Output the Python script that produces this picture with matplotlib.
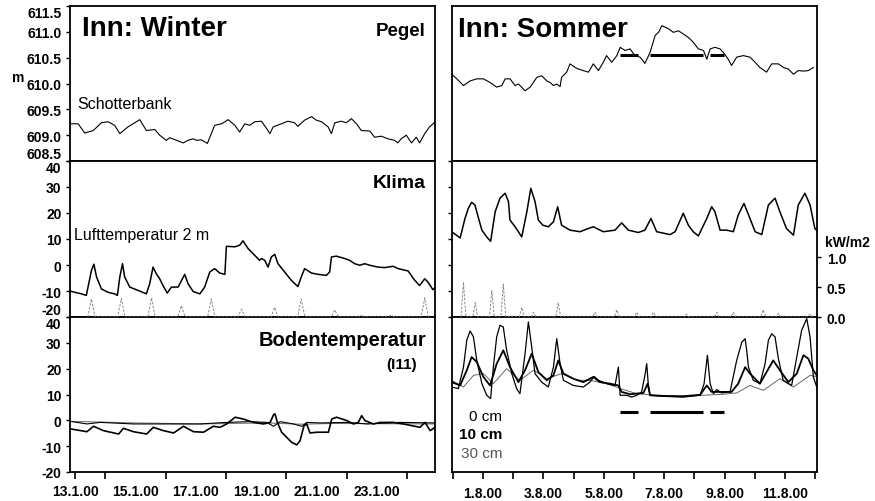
import matplotlib.pyplot as plt

plt.rcParams['font.family'] = ['Liberation Sans', 'DejaVu Sans']

# --- winter (days in January 2000) ---
pegel_w_day = [12.77, 13.10, 13.32, 13.60, 13.87, 14.09, 14.31, 14.48, 14.75, 15.14, 15.36, 15.64,
               15.80, 16.02, 16.13, 16.36, 16.58, 16.74, 16.91, 17.02, 17.18, 17.38, 17.62, 17.85,
               18.07, 18.29, 18.45, 18.62, 18.78, 18.95, 19.17, 19.34, 19.45, 19.56, 19.83, 20.05,
               20.27, 20.38, 20.60, 20.83, 20.99, 21.16, 21.38, 21.49, 21.60, 21.82, 21.98, 22.15,
               22.32, 22.48, 22.76, 22.92, 23.14, 23.36, 23.58, 23.69, 23.80, 23.97, 24.14, 24.30,
               24.41, 24.58, 24.74, 24.91]
pegel_w = [609.22, 609.22, 609.04, 609.09, 609.24, 609.26, 609.19, 609.03, 609.16, 609.30, 609.09, 609.11,
           609.00, 608.90, 608.95, 608.90, 608.85, 608.90, 608.93, 608.90, 608.91, 608.84, 609.19, 609.22,
           609.30, 609.19, 609.06, 609.22, 609.19, 609.26, 609.27, 609.13, 609.03, 609.16, 609.22, 609.27,
           609.24, 609.17, 609.29, 609.36, 609.29, 609.26, 609.16, 609.03, 609.24, 609.27, 609.24, 609.32,
           609.22, 609.09, 609.08, 608.96, 608.98, 608.93, 608.90, 608.85, 608.93, 609.00, 608.85, 608.96,
           608.85, 609.03, 609.16, 609.25]

luft_w_day = [12.77, 12.99, 13.21, 13.37, 13.45, 13.54, 13.62, 13.71, 13.87, 14.09, 14.31, 14.40,
              14.48, 14.57, 14.64, 14.81, 15.09, 15.36, 15.47, 15.58, 15.69, 15.80, 15.91, 16.05,
              16.19, 16.41, 16.63, 16.74, 16.91, 17.13, 17.29, 17.46, 17.62, 17.79, 17.96, 18.01,
              18.29, 18.45, 18.56, 18.73, 18.95, 19.11, 19.17, 19.28, 19.39, 19.50, 19.61, 19.72,
              19.94, 20.16, 20.38, 20.49, 20.60, 20.83, 21.05, 21.32, 21.43, 21.49, 21.65, 21.93,
              22.09, 22.26, 22.43, 22.59, 22.76, 23.03, 23.25, 23.53, 23.70, 24.03, 24.25, 24.41,
              24.58, 24.69, 24.85, 24.96]
luft_w = [-9.8, -10.5, -11.1, -11.7, -7.2, -2.1, 0.3, -4.6, -9.2, -10.5, -11.1, -11.7,
          -4.6, 0.5, -4.6, -8.5, -9.8, -11.1, -7.2, -0.8, -3.4, -5.3, -7.9, -10.8,
          -8.5, -8.5, -3.6, -7.2, -10.2, -11.1, -8.5, -2.7, -1.4, -3.1, -3.6, 7.2,
          7.0, 7.6, 9.3, 6.3, 3.7, 1.8, 2.5, 1.8, -0.8, 3.1, 4.1, 0.5,
          -2.7, -5.9, -8.3, -4.6, -1.4, -3.1, -3.6, -4.0, -2.7, 3.1, 3.4, 2.5,
          1.8, 0.5, -0.1, 0.5, -0.1, -0.8, -1.0, -0.5, -1.4, -2.3, -5.9, -7.9,
          -5.3, -6.6, -9.5, -8.3]

# global radiation (kW/m2), one peak per day
strahl_w_day = [13.42, 13.54, 13.66, 14.41, 14.53, 14.65, 15.41, 15.53, 15.65, 16.40, 16.52, 16.64,
                17.39, 17.51, 17.63, 18.39, 18.51, 18.63, 19.49, 19.61, 19.73, 20.37, 20.49, 20.61,
                21.48, 21.60, 21.72, 22.36, 22.48, 22.60, 23.35, 23.47, 23.59, 24.46, 24.58, 24.70]
strahl_w = [0, 0.30, 0, 0, 0.31, 0, 0, 0.32, 0, 0, 0.19, 0,
            0, 0.30, 0, 0, 0.13, 0, 0, 0.16, 0, 0, 0.30, 0,
            0, 0.12, 0, 0, 0.03, 0, 0, 0.03, 0, 0, 0.32, 0]

boden0_w_day = [12.89, 13.39, 13.61, 13.94, 14.44, 14.60, 14.93, 15.37, 15.59, 15.93, 16.26, 16.59,
                16.92, 17.25, 17.58, 17.80, 18.02, 18.30, 18.57, 18.91, 19.24, 19.46, 19.57, 19.62,
                19.70, 19.84, 20.01, 20.17, 20.34, 20.45, 20.58, 20.67, 20.78, 21.00, 21.39, 21.50,
                21.66, 22.00, 22.22, 22.38, 22.49, 22.60, 22.88, 23.10, 23.54, 23.87, 24.42, 24.59,
                24.76, 24.92]
boden0_w = [-3.4, -4.4, -2.3, -4.0, -5.3, -3.1, -4.4, -5.3, -2.7, -4.0, -4.9, -2.3,
            -4.4, -4.6, -2.3, -2.7, -1.4, 1.2, 0.5, -0.8, -1.4, -0.8, 2.1, 2.5,
            -0.8, -4.6, -6.6, -8.5, -9.5, -7.9, -2.1, -1.4, -4.9, -4.6, -4.6, 0.5,
            1.2, -0.1, -1.4, -0.8, 1.8, -0.1, -1.4, -0.8, -0.8, -1.4, -2.7, -0.8,
            -4.0, -2.7]
boden10_w_day = [12.89, 13.39, 13.83, 14.93, 16.03, 17.14, 18.02, 18.79, 19.35, 19.57, 19.79, 20.23,
                 20.51, 20.67, 21.11, 22.00, 22.66, 23.76, 24.92]
boden10_w = [-0.5, -1.4, -0.8, -1.4, -1.4, -1.4, -0.8, -0.5, -0.8, -2.3, -0.5, -1.4,
             -2.3, -0.8, -1.0, -0.8, -1.4, -0.8, -1.0]
boden30_w_day = [12.89, 14.93, 17.14, 19.35, 20.45, 21.55, 24.92]
boden30_w = [-0.4, -1.0, -1.4, -1.0, -1.5, -1.2, -1.4]

# --- summer (day 1 = 1.8.2000) ---
pegel_s_day = [-0.04, 0.13, 0.35, 0.57, 0.79, 1.01, 1.23, 1.45, 1.62, 1.73, 1.89, 2.06,
               2.17, 2.39, 2.56, 2.78, 2.94, 3.11, 3.22, 3.33, 3.44, 3.55, 3.60, 3.77,
               3.88, 4.05, 4.16, 4.32, 4.49, 4.65, 4.82, 4.98, 5.09, 5.26, 5.43, 5.54,
               5.70, 5.87, 6.03, 6.20, 6.36, 6.53, 6.70, 6.81, 6.92, 7.03, 7.14, 7.30,
               7.47, 7.63, 7.80, 7.96, 8.13, 8.30, 8.41, 8.52, 8.68, 8.85, 8.96, 9.12,
               9.23, 9.40, 9.62, 9.84, 10.01, 10.17, 10.39, 10.56, 10.78, 10.95, 11.11, 11.28,
               11.44, 11.61, 11.77, 11.94]
pegel_s = [610.18, 610.09, 609.96, 610.05, 610.09, 610.09, 610.02, 609.93, 609.96, 610.09, 610.09, 609.96,
           609.99, 609.86, 609.93, 610.12, 610.15, 610.05, 610.02, 609.96, 609.99, 609.94, 610.12, 610.22,
           610.38, 610.31, 610.28, 610.25, 610.22, 610.38, 610.25, 610.41, 610.54, 610.41, 610.54, 610.70,
           610.64, 610.67, 610.54, 610.51, 610.39, 610.60, 610.93, 610.99, 611.12, 611.09, 611.06, 610.99,
           611.02, 610.96, 610.89, 610.80, 610.67, 610.64, 610.47, 610.67, 610.70, 610.67, 610.60, 610.47,
           610.35, 610.51, 610.54, 610.51, 610.41, 610.31, 610.22, 610.38, 610.38, 610.31, 610.28, 610.18,
           610.25, 610.24, 610.25, 610.31]

# periods with the gravel bar flooded
flut_start = [5.54, 6.53, 8.52]
flut_end = [6.14, 8.30, 8.97]
flut_pegel = 610.55
flut_boden = 3.3

luft_s_day = [-0.04, 0.24, 0.40, 0.51, 0.62, 0.73, 0.85, 0.96, 1.12, 1.25, 1.40, 1.56,
              1.73, 1.84, 1.89, 2.06, 2.28, 2.45, 2.58, 2.72, 2.83, 2.98, 3.16, 3.33,
              3.47, 3.60, 3.88, 4.21, 4.43, 4.65, 4.98, 5.37, 5.59, 5.81, 6.14, 6.36,
              6.56, 6.75, 7.19, 7.36, 7.63, 7.80, 7.96, 8.13, 8.41, 8.57, 8.68, 8.85,
              9.07, 9.29, 9.45, 9.64, 9.84, 10.01, 10.23, 10.45, 10.67, 10.83, 11.05, 11.28,
              11.44, 11.66, 11.83, 11.99, 12.10]
luft_s = [12.8, 10.4, 17.9, 21.8, 24.1, 23.1, 17.9, 13.4, 10.8, 9.1, 20.5, 25.7,
          27.6, 24.4, 17.3, 14.7, 10.8, 20.5, 29.5, 24.4, 17.3, 15.3, 14.7, 16.6,
          22.4, 15.3, 13.4, 12.8, 13.8, 14.7, 12.8, 13.4, 16.2, 13.4, 12.5, 13.4,
          17.9, 12.8, 11.7, 12.8, 19.9, 15.3, 12.8, 11.2, 17.9, 22.4, 20.5, 13.4,
          13.4, 12.8, 19.2, 23.7, 17.9, 12.8, 11.7, 23.1, 25.7, 20.5, 14.0, 11.5,
          23.1, 27.6, 23.1, 14.0, 12.8]

strahl_s_day = [0.27, 0.35, 0.43, 0.66, 0.74, 0.82, 1.21, 1.29, 1.37, 1.59, 1.67, 1.75,
                2.20, 2.28, 2.36, 2.59, 2.67, 2.75, 3.41, 3.49, 3.57, 4.63, 4.71, 4.79,
                5.35, 5.43, 5.51, 6.01, 6.09, 6.17, 6.56, 6.64, 6.72, 7.66, 7.74, 7.82,
                8.66, 8.74, 8.82, 9.21, 9.29, 9.37, 10.20, 10.28, 10.36, 10.70, 10.78, 10.86,
                11.75, 11.83, 11.91]
strahl_s = [0, 0.58, 0, 0, 0.24, 0, 0, 0.44, 0, 0, 0.55, 0,
            0, 0.16, 0, 0, 0.08, 0, 0, 0.24, 0, 0, 0.08, 0,
            0, 0.12, 0, 0, 0.08, 0, 0, 0.08, 0, 0, 0.05, 0,
            0, 0.08, 0, 0, 0.08, 0, 0, 0.12, 0, 0, 0.06, 0,
            0, 0.05, 0]

boden0_s_day = [-0.04, 0.18, 0.35, 0.46, 0.57, 0.68, 0.79, 0.96, 1.12, 1.25, 1.34, 1.45,
                1.56, 1.67, 1.78, 1.95, 2.11, 2.22, 2.39, 2.50, 2.61, 2.72, 2.94, 3.16,
                3.33, 3.44, 3.55, 3.66, 3.99, 4.32, 4.54, 4.68, 4.82, 5.09, 5.37, 5.48,
                5.54, 5.76, 5.92, 6.09, 6.25, 6.36, 6.42, 6.47, 6.53, 6.97, 7.63, 8.19,
                8.32, 8.43, 8.52, 8.63, 8.74, 8.90, 9.18, 9.40, 9.57, 9.68, 9.73, 9.79,
                9.95, 10.17, 10.34, 10.45, 10.56, 10.67, 10.78, 10.94, 11.22, 11.39, 11.55, 11.72,
                11.83, 11.94, 12.05]
boden0_s = [12.9, 12.3, 20.6, 31.0, 34.6, 32.3, 23.2, 14.2, 9.7, 8.4, 20.6, 32.3,
            36.8, 36.1, 27.1, 18.1, 12.3, 10.3, 25.8, 38.1, 28.4, 18.1, 14.8, 12.9,
            20.6, 31.6, 21.9, 15.5, 13.5, 12.9, 14.8, 17.0, 15.5, 14.2, 13.5, 20.6,
            9.7, 9.7, 9.0, 9.7, 11.0, 17.4, 21.9, 14.2, 9.7, 9.3, 9.0, 9.7,
            14.2, 25.2, 14.2, 10.3, 11.9, 10.6, 11.0, 23.2, 30.3, 31.6, 27.1, 20.6,
            15.5, 14.2, 21.9, 31.0, 33.5, 32.3, 23.9, 15.5, 13.5, 24.5, 34.8, 39.4,
            32.3, 16.8, 12.9]
boden10_s_day = [-0.04, 0.24, 0.46, 0.62, 0.79, 1.01, 1.23, 1.45, 1.67, 1.89, 2.17, 2.39,
                 2.61, 2.83, 3.11, 3.33, 3.49, 3.66, 3.99, 4.32, 4.65, 4.87, 5.20, 5.48,
                 5.59, 5.87, 6.31, 6.45, 6.53, 7.08, 7.63, 8.19, 8.41, 8.57, 8.96, 9.23,
                 9.45, 9.68, 9.84, 10.17, 10.39, 10.61, 10.83, 11.11, 11.39, 11.61, 11.77, 11.94,
                 12.05]
boden10_s = [14.8, 13.5, 19.4, 24.5, 22.6, 16.8, 13.5, 21.9, 27.1, 20.6, 14.8, 19.4,
             25.8, 18.7, 15.5, 17.4, 23.2, 18.1, 16.1, 14.8, 16.8, 14.8, 14.2, 13.5,
             11.0, 10.1, 10.6, 14.2, 9.7, 9.4, 9.3, 9.9, 13.5, 11.0, 11.0, 11.0,
             14.2, 20.6, 18.1, 14.2, 18.7, 23.2, 19.4, 14.8, 18.1, 25.2, 23.9, 19.4,
             17.4]
boden30_s_day = [-0.04, 0.35, 0.68, 1.01, 1.34, 1.78, 2.22, 2.67, 3.11, 3.60, 4.10, 4.54,
                 5.09, 5.54, 6.09, 6.75, 7.63, 8.30, 8.96, 9.40, 9.84, 10.28, 10.83, 11.28,
                 11.83, 12.10]
boden30_s = [15.5, 12.9, 17.4, 18.1, 14.2, 20.0, 15.5, 19.4, 16.1, 18.1, 15.5, 15.5,
             14.2, 12.3, 10.3, 9.7, 9.4, 9.7, 10.1, 10.6, 13.5, 11.6, 16.1, 12.9,
             17.4, 16.8]

winter_ticks = [13, 14, 16, 18, 20, 22, 24]
winter_label_days = [13, 15, 17, 19, 21, 23]
winter_labels = ['13.1.00', '15.1.00', '17.1.00', '19.1.00', '21.1.00', '23.1.00']
summer_ticks = list(range(0, 13))
summer_label_days = [1, 3, 5, 7, 9, 11]
summer_labels = ['1.8.00', '3.8.00', '5.8.00', '7.8.00', '9.8.00', '11.8.00']

fig = plt.figure(figsize=(8.75, 5.02), dpi=100)

col_x = [70 / 875, 452 / 875]
col_w = 365 / 875
row_y = [1 - 162 / 502, 1 - 318 / 502, 1 - 473 / 502]
row_h = [155 / 502, 156 / 502, 155 / 502]

axes = [[fig.add_axes([col_x[c], row_y[r], col_w, row_h[r]]) for c in range(2)] for r in range(3)]

for r in range(3):
    for c in range(2):
        ax = axes[r][c]
        for s in ax.spines.values():
            s.set_linewidth(1.3)
        ax.tick_params(direction='out', length=3, width=1, labelsize=10, pad=3)
        if c == 1:
            ax.tick_params(axis='y', left=False, labelleft=False)
        if r < 2:
            ax.tick_params(axis='x', bottom=False, labelbottom=False)
        ax.set_xlim((12.83, 24.92) if c == 0 else (-0.03, 12.06))

# water level
for c in range(2):
    axes[0][c].set_ylim(608.5, 611.5)
    axes[0][c].set_yticks([608.5, 609.0, 609.5, 610.0, 610.5, 611.0, 611.5])
axes[0][0].set_yticklabels(['608.5', '609.0', '609.5', '610.0', '610.5', '611.0', '611.5'],
                           fontweight='bold')
axes[0][0].plot(pegel_w_day, pegel_w, color='black', lw=0.8)
axes[0][1].plot(pegel_s_day, pegel_s, color='black', lw=0.8)
axes[0][1].hlines([flut_pegel] * 3, flut_start, flut_end, color='black', lw=2.2)

# air temperature and radiation
temp_ticks = [-20, -10, 0, 10, 20, 30, 40]
for r in (1, 2):
    for c in range(2):
        axes[r][c].set_ylim(-20, 40)
        axes[r][c].set_yticks(temp_ticks)
    axes[r][0].set_yticklabels([str(t) for t in temp_ticks], fontweight='bold')

# labels at the shared panel edges are nudged apart so they don't collide
ylabs = axes[0][0].get_yticklabels()
ylabs[0].set_verticalalignment('bottom')
ylabs[-1].set_verticalalignment('top')
ylabs = axes[1][0].get_yticklabels()
ylabs[0].set_verticalalignment('bottom')
ylabs[-1].set_verticalalignment('top')
axes[2][0].get_yticklabels()[-1].set_verticalalignment('top')

axes[1][0].plot(luft_w_day, luft_w, color='black', lw=1.1)
axes[1][1].plot(luft_s_day, luft_s, color='black', lw=1.1)

for c, (d, k) in enumerate([(strahl_w_day, strahl_w), (strahl_s_day, strahl_s)]):
    tw = axes[1][c].twinx()
    tw.set_ylim(0, 2.6)
    tw.set_xlim(axes[1][c].get_xlim())
    tw.plot(d, k, color='#888888', lw=0.7, dashes=(2.5, 1.5))
    for s in tw.spines.values():
        s.set_visible(False)
    if c == 0:
        tw.set_yticks([])
    else:
        tw.set_yticks([0, 0.5, 1.0])
        tw.set_yticklabels(['0.0', '0.5', '1.0'], fontweight='bold')
        tw.tick_params(direction='out', length=3, width=1, labelsize=10, pad=4)

# soil temperature
axes[2][0].plot(boden30_w_day, boden30_w, color='#777777', lw=0.8)
axes[2][0].plot(boden10_w_day, boden10_w, color='black', lw=0.8)
axes[2][0].plot(boden0_w_day, boden0_w, color='black', lw=1.2)
axes[2][1].plot(boden30_s_day, boden30_s, color='#666666', lw=0.7)
axes[2][1].plot(boden10_s_day, boden10_s, color='black', lw=1.3)
axes[2][1].plot(boden0_s_day, boden0_s, color='black', lw=0.9)
axes[2][1].hlines([flut_boden] * 3, flut_start, flut_end, color='black', lw=2.2)

# date axes: ticks and labels at separate positions
ax = axes[2][0]
ax.xaxis.remove_overlapping_locs = False
ax.set_xticks(winter_ticks)
ax.set_xticklabels([])
ax.set_xticks(winter_label_days, minor=True)
ax.set_xticklabels(winter_labels, minor=True, fontweight='bold')
ax.tick_params(axis='x', which='major', length=5, width=1.2)
ax.tick_params(axis='x', which='minor', length=0, labelsize=10, pad=9)

ax = axes[2][1]
ax.set_xticks(summer_ticks)
ax.set_xticklabels([summer_labels[summer_label_days.index(t)] if t in summer_label_days else ''
                    for t in summer_ticks], fontweight='bold')
ax.tick_params(axis='x', length=5, width=1.2, labelsize=10, pad=5)

# panel annotations
axes[0][0].text(0.033, 0.86, 'Inn: Winter', transform=axes[0][0].transAxes, fontsize=20,
                fontweight='bold', va='center', ha='left')
axes[0][1].text(0.016, 0.852, 'Inn: Sommer', transform=axes[0][1].transAxes, fontsize=20,
                fontweight='bold', va='center', ha='left')
axes[0][0].text(0.973, 0.845, 'Pegel', transform=axes[0][0].transAxes, fontsize=13.5,
                fontweight='bold', va='center', ha='right')
axes[0][0].text(0.019, 0.368, 'Schotterbank', transform=axes[0][0].transAxes, fontsize=11.5,
                va='center', ha='left')
axes[1][0].text(0.975, 0.865, 'Klima', transform=axes[1][0].transAxes, fontsize=14,
                fontweight='bold', va='center', ha='right')
axes[1][0].text(0.011, 0.526, 'Lufttemperatur 2 m', transform=axes[1][0].transAxes, fontsize=11.5,
                va='center', ha='left')
axes[2][0].text(0.975, 0.852, 'Bodentemperatur', transform=axes[2][0].transAxes, fontsize=14.5,
                fontweight='bold', va='center', ha='right')
axes[2][0].text(0.951, 0.697, '(I11)', transform=axes[2][0].transAxes, fontsize=11,
                fontweight='bold', va='center', ha='right')
axes[2][1].text(0.137, 0.361, '0 cm', transform=axes[2][1].transAxes, fontsize=11,
                va='center', ha='right')
axes[2][1].text(0.137, 0.245, '10 cm', transform=axes[2][1].transAxes, fontsize=11,
                fontweight='bold', va='center', ha='right')
axes[2][1].text(0.137, 0.123, '30 cm', transform=axes[2][1].transAxes, fontsize=11,
                color='#555555', va='center', ha='right')

fig.text(12 / 875, 1 - 78 / 502, 'm', fontsize=10, fontweight='bold', va='center', ha='left')
fig.text(825 / 875, 1 - 243 / 502, 'kW/m2', fontsize=10, fontweight='bold', va='center', ha='left')

fig.savefig('out.png', dpi=100)
